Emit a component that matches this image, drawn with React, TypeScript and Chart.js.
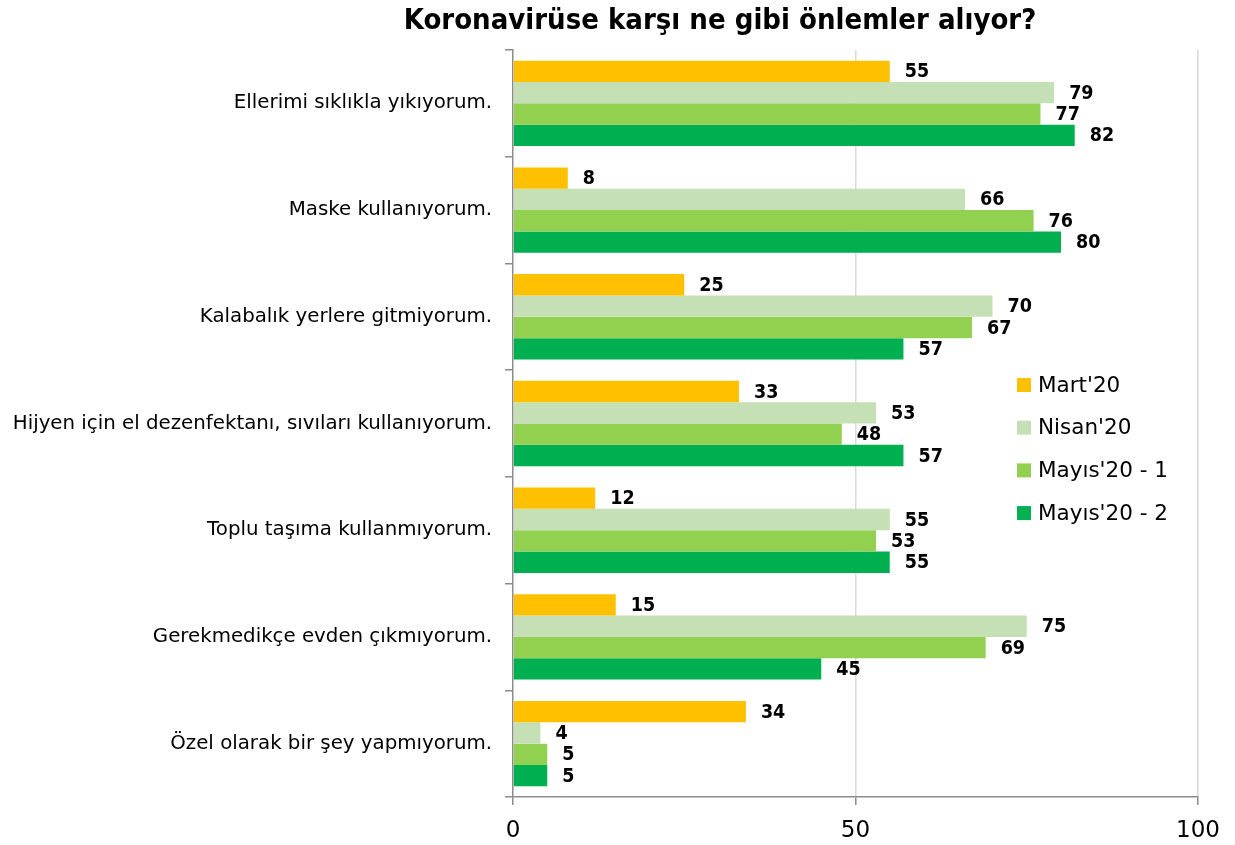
import React, { useEffect, useRef } from "react";
import { Chart, registerables } from "chart.js";

Chart.register(...registerables);

const categories = [
  "Ellerimi sıklıkla yıkıyorum.",
  "Maske kullanıyorum.",
  "Kalabalık yerlere gitmiyorum.",
  "Hijyen için el dezenfektanı, sıvıları kullanıyorum.",
  "Toplu taşıma kullanmıyorum.",
  "Gerekmedikçe evden çıkmıyorum.",
  "Özel olarak bir şey yapmıyorum.",
];

const seriesNames = ["Mart'20", "Nisan'20", "Mayıs'20 - 1", "Mayıs'20 - 2"];
const mart20 = [55, 8, 25, 33, 12, 15, 34];
const nisan20 = [79, 66, 70, 53, 55, 75, 4];
const mayis20a = [77, 76, 67, 48, 53, 69, 5];
const mayis20b = [82, 80, 57, 57, 55, 45, 5];
const seriesColors = ["#FFC000", "#C5E0B4", "#92D050", "#00B050"];
const xTicks = [0, 50, 100];

const titleText = "Koronavirüse karşı ne gibi önlemler alıyor?";
const NARROW = "'DejaVu Sans Condensed', 'Liberation Sans Narrow', Arial, sans-serif";
const REG = "'DejaVu Sans', Arial, sans-serif";

const overlayPlugin = {
  id: "overlay",
  afterDatasetsDraw(chart: any) {
    const ctx = chart.ctx;
    ctx.save();
    // data labels
    ctx.font = `bold 19.5px ${NARROW}`;
    ctx.fillStyle = "#000";
    ctx.textAlign = "left";
    ctx.textBaseline = "middle";
    chart.data.datasets.forEach((ds: any, i: number) => {
      const meta = chart.getDatasetMeta(i);
      meta.data.forEach((el: any, j: number) => {
        ctx.fillText(String(ds.data[j]), el.x + 15, el.y + 1);
      });
    });
    // title
    ctx.font = `bold 29px ${NARROW}`;
    ctx.textAlign = "center";
    ctx.fillStyle = "#000";
    ctx.fillText(titleText, 720, 21);
    // legend
    ctx.font = `21.5px ${REG}`;
    ctx.textAlign = "left";
    chart.data.datasets.forEach((ds: any, i: number) => {
      const y = 385 + i * 42.7;
      ctx.fillStyle = ds.backgroundColor;
      ctx.fillRect(1017, y - 7, 14, 14);
      ctx.fillStyle = "#000";
      ctx.fillText(ds.label, 1038, y + 1);
    });
    ctx.restore();
  },
};

export default function App() {
  const ref = useRef<HTMLCanvasElement>(null);
  useEffect(() => {
    document.body.style.margin = "0";
    const series = [mart20, nisan20, mayis20a, mayis20b];
    const chart = new Chart(ref.current!, {
      type: "bar",
      data: {
        labels: categories,
        datasets: series.map((d, i) => ({
          label: seriesNames[i],
          data: d,
          backgroundColor: seriesColors[i],
          borderWidth: 0,
          categoryPercentage: 0.8,
          barPercentage: 1.0,
        })),
      },
      options: {
        indexAxis: "y",
        responsive: false,
        animation: false,
        layout: { padding: { top: 50, right: 37, left: 0, bottom: 0 } },
        plugins: {
          legend: { display: false },
          title: { display: false },
          tooltip: { enabled: false },
        },
        scales: {
          x: {
            min: 0,
            max: 100,
            afterBuildTicks: (scale: any) => {
              scale.ticks = xTicks.map((v) => ({ value: v }));
            },
            afterFit: (scale: any) => {
              scale.height = 48;
            },
            grid: {
              color: (c: any) => (c.tick && c.tick.value === 0 ? "rgba(0,0,0,0)" : "#D9D9D9"),
              lineWidth: 1.5,
              drawTicks: true,
              tickLength: 8,
              tickColor: "#8C8C8C",
            },
            border: { color: "#8C8C8C", width: 1.5 },
            ticks: {
              color: "#000",
              font: { family: REG, size: 23 },
              padding: 12,
            },
          },
          y: {
            afterFit: (scale: any) => {
              scale.width = 513;
            },
            grid: {
              offset: true,
              drawOnChartArea: false,
              tickLength: 8,
              tickColor: "#8C8C8C",
              lineWidth: 1.5,
            },
            border: { color: "#8C8C8C", width: 1.5 },
            ticks: {
              color: "#000",
              font: { family: REG, size: 19.8 },
              padding: 13,
            },
          },
        },
      },
      plugins: [overlayPlugin],
    } as any);
    return () => chart.destroy();
  }, []);
  return <canvas ref={ref} width={1235} height={845} style={{ display: "block" }} />;
}
